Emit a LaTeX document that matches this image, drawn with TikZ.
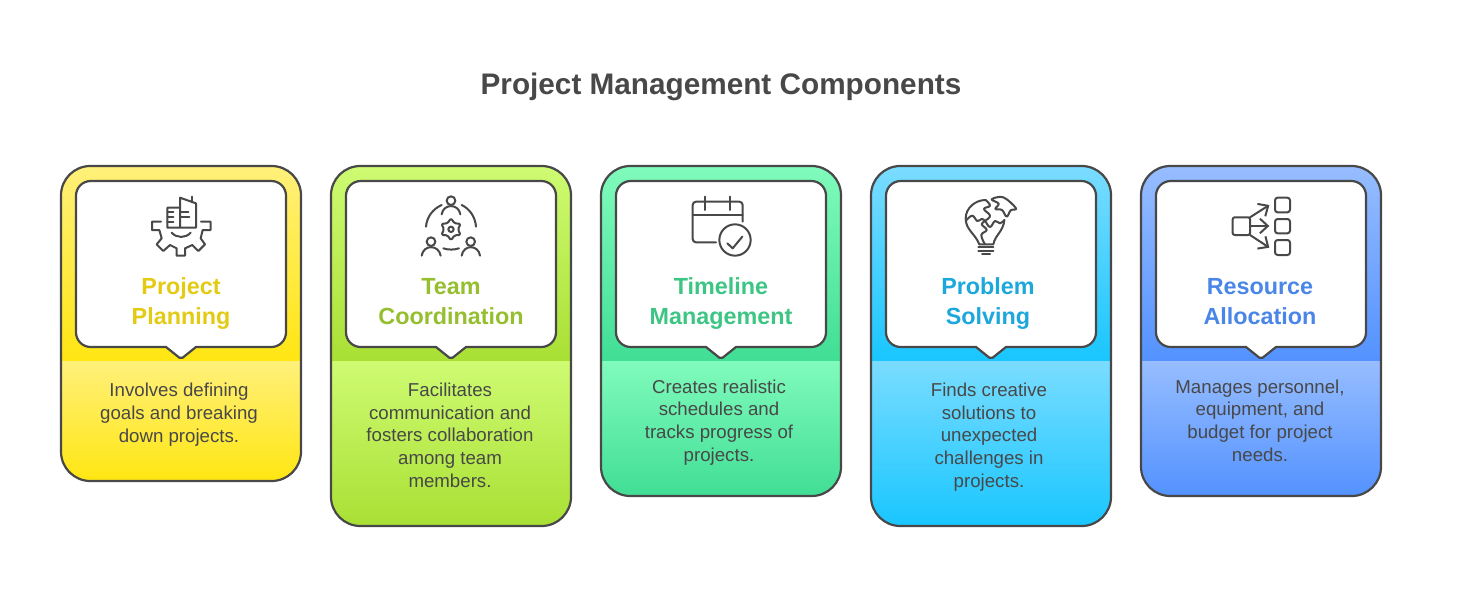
\documentclass[tikz,border=0pt]{standalone}
\usepackage{fontspec}
\setmainfont{Liberation Sans}
\usetikzlibrary{arrows.meta}
\definecolor{inkgray}{HTML}{484848}
\definecolor{yellowtop}{HTML}{FFF07A}
\definecolor{yellowbot}{HTML}{FFE612}
\definecolor{yellowhead}{HTML}{E3CB14}
\definecolor{limetop}{HTML}{CEFB72}
\definecolor{limebot}{HTML}{A9E034}
\definecolor{limehead}{HTML}{95BF2E}
\definecolor{mintop}{HTML}{80FBBC}
\definecolor{minbot}{HTML}{41DE95}
\definecolor{minhead}{HTML}{3CC583}
\definecolor{skytop}{HTML}{7ADCFF}
\definecolor{skybot}{HTML}{19C6FF}
\definecolor{skyhead}{HTML}{1CA8DC}
\definecolor{bluetop}{HTML}{97BDFF}
\definecolor{bluebot}{HTML}{5392FF}
\definecolor{bluehead}{HTML}{4A86E8}
\tikzset{
  outline/.style={draw=inkgray,line width=1.65pt},
  iconline/.style={draw=inkgray,line width=1.5pt,line cap=round,line join=round},
  heading/.style={font=\fontsize{17.5}{22.5}\selectfont\bfseries,align=center,inner sep=0pt,anchor=base},
  body/.style={font=\fontsize{14}{16.9}\selectfont,text=inkgray,align=center,inner sep=0pt,anchor=base},
}
\begin{document}
\begin{tikzpicture}[x=0.75pt,y=-0.75pt]
\useasboundingbox (0,0) rectangle (1473,603);
\node[font=\fontsize{22.3}{27}\selectfont\bfseries,text=inkgray,inner sep=0pt,anchor=base] (title) at (721,94) {Project Management Components};
% cards
\foreach \x/\y/\c in {61/481/yellow,331/526/lime,601/496/min,871/526/sky,1141/496/blue} {
  \begin{scope}
    \clip[rounded corners=22pt] (\x,166) rectangle (\x+240,\y);
    \path[top color=\c top,bottom color=\c bot] (\x,166) rectangle (\x+240,361);
    \path[top color=\c top,bottom color=\c bot] (\x,361) rectangle (\x+240,\y);
  \end{scope}
  \draw[outline,rounded corners=22pt] (\x,166) rectangle (\x+240,\y);
  \draw[outline,fill=white] (\x+105,347) [rounded corners=11pt] -- (\x+15,347) -- (\x+15,181) -- (\x+225,181) -- (\x+225,347) [sharp corners] -- (\x+135,347) [rounded corners=1.5pt] -- (\x+120,359) [sharp corners] -- cycle;
}
% headings
\node[heading,text=yellowhead] (planning) at (181,324) {Project\\Planning};
\node[heading,text=limehead] (coordination) at (451,324) {Team\\Coordination};
\node[heading,text=minhead] (timeline) at (721,324) {Timeline\\Management};
\node[heading,text=skyhead] (solving) at (988,324) {Problem\\Solving};
\node[heading,text=bluehead] (allocation) at (1260,324) {Resource\\Allocation};
% descriptions
\node[body] (planningtext) at (179,442) {Involves defining\\goals and breaking\\down projects.};
\node[body] (coordinationtext) at (450,487) {Facilitates\\communication and\\fosters collaboration\\among team\\members.};
\node[body] (timelinetext) at (719,461) {Creates realistic\\schedules and\\tracks progress of\\projects.};
\node[body] (solvingtext) at (989,487) {Finds creative\\solutions to\\unexpected\\challenges in\\projects.};
\node[body] (allocationtext) at (1260,461) {Manages personnel,\\equipment, and\\budget for project\\needs.};
% gear and building
\begin{scope}[shift={(130,185)},scale=1/3]
\draw[iconline] (93,110) -- (66,110) -- (66,135) -- (88,135) -- (95,160) -- (80,178) -- (100,198) -- (120,180) -- (140,190) -- (140,212) -- (165,212) -- (165,190) -- (187,180) -- (205,198) -- (225,178) -- (212,160) -- (218,135) -- (242,135) -- (242,110) -- (213,110);
\draw[iconline] (125,143) .. controls (140,160) and (167,160) .. (182,143);
\draw[iconline] (150,68) -- (112,68) -- (112,128) -- (198,128) -- (198,55) -- (150,38) -- (150,128);
\draw[iconline] (187,35) -- (187,52);
\draw[iconline] (112,82) -- (130,82) (112,97) -- (130,97) (112,112) -- (130,112) (150,82) -- (175,82) (150,97) -- (178,97);
\end{scope}
% people around a gear
\begin{scope}[shift={(400,185)},scale=1/3]
\draw[iconline] (153,47) circle (13);
\draw[iconline] (125,88) .. controls (130,55) and (176,55) .. (181,88);
\draw[iconline] (125,60) .. controls (98,72) and (80,97) .. (78,125);
\draw[iconline] (185,60) .. controls (210,72) and (226,97) .. (228,125);
\draw[iconline] (130,190) .. controls (145,195) and (162,195) .. (177,190);
\draw[iconline,shift={(153,133)},rounded corners=1pt] (90:33) \foreach \a in {90,150,...,390} { -- (\a+30:21) -- (\a+60:33) } -- cycle;
\draw[iconline] (153,133) circle (8);
\draw[iconline] (93,170) circle (13);
\draw[iconline] (65,212) .. controls (70,178) and (116,178) .. (122,212);
\draw[iconline] (212,170) circle (13);
\draw[iconline] (185,212) .. controls (190,178) and (235,178) .. (240,212);
\end{scope}
% calendar
\begin{scope}[shift={(670,185)},scale=1/3]
\draw[iconline,rounded corners=2.5pt] (138,172) -- (68,172) -- (68,50) -- (218,50) -- (218,110);
\draw[iconline] (68,90) -- (218,90);
\draw[iconline] (105,35) -- (105,75) (180,35) -- (180,75);
\draw[iconline] (195,165) circle (47);
\draw[iconline] (172,175) -- (188,190) -- (217,155);
\end{scope}
% bulb
\begin{scope}[shift={(940,185)},scale=1/3]
\draw[iconline] (118,178) .. controls (105,145) and (77,135) .. (77,100) .. controls (77,70) and (105,45) .. (137,45);
\draw[iconline] plot[smooth,tension=.7] coordinates {(137,45) (150,62) (132,72) (150,92) (135,108) (125,118) (140,135) (124,150) (135,178)};
\draw[iconline] plot[smooth,tension=.7] coordinates {(80,105) (97,92) (112,108) (125,102) (135,108) (150,126) (165,108) (180,115) (193,105)};
\draw[iconline] (193,105) .. controls (190,140) and (165,150) .. (160,178) -- (118,178);
\draw[iconline] plot[smooth cycle,tension=.6] coordinates {(155,43) (190,37) (228,70) (212,76) (200,95) (186,75) (166,72) (176,56)};
\draw[iconline] (115,185) -- (160,185) (115,197) -- (160,197) (126,208) -- (150,208);
\end{scope}
% arrows to squares
\begin{scope}[shift={(1210,185)},scale=1/3]
\draw[iconline,rounded corners=1.5pt] (68,97) rectangle (120,150);
\draw[iconline,rounded corners=2pt] (195,38) rectangle (240,82);
\draw[iconline,rounded corners=2pt] (195,102) rectangle (240,145);
\draw[iconline,rounded corners=2pt] (195,165) rectangle (240,210);
\draw[iconline,-{Straight Barb[length=6pt,width=11pt]}] (120,97) -- (178,60);
\draw[iconline,-{Straight Barb[length=6pt,width=11pt]}] (120,123) -- (178,123);
\draw[iconline,-{Straight Barb[length=6pt,width=11pt]}] (120,150) -- (178,188);
\end{scope}
\end{tikzpicture}
\end{document}
